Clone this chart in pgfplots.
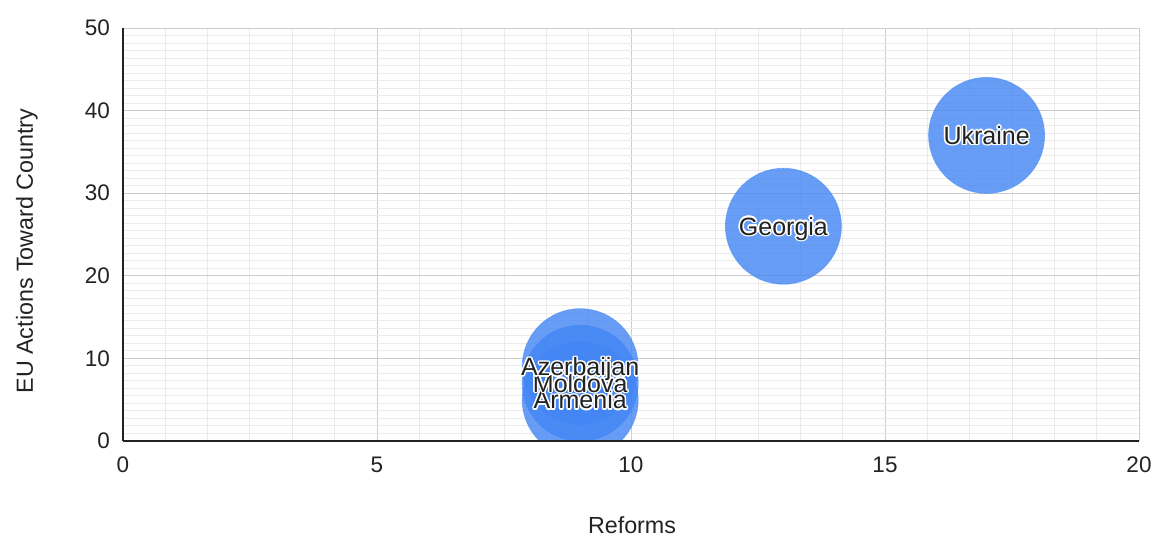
\documentclass[border=0pt]{standalone}
\usepackage{pgfplots}
\pgfplotsset{compat=1.18}
\usepackage{pgfplotstable}
\usepackage{fontspec}
\setmainfont{Liberation Sans}
\usepackage{contour}
\contourlength{1.5pt}
\contournumber{12}
\definecolor{bub}{RGB}{66,133,244}
\definecolor{txt}{RGB}{34,34,34}
\definecolor{majg}{RGB}{204,204,204}
\definecolor{ming}{RGB}{235,235,235}
\pgfplotstableread{
x y label
9 5 Armenia
9 7 Moldova
9 9 Azerbaijan
13 26 Georgia
17 37 Ukraine
}\bubbles
\pgfplotsset{common/.style={
 at={(0pt,0pt)}, anchor=south west, scale only axis, width=1016pt, height=413pt,
 xmin=0,xmax=20,ymin=0,ymax=50,
 axis lines=left, axis line style={-, txt, line width=1.2pt},
 major tick length=0pt, minor tick length=0pt}}
\begin{document}
\begin{tikzpicture}
\path[use as bounding box] (-123pt,-95pt) rectangle (1030pt,441pt);
\begin{axis}[common,
 axis line style={draw=none},
 xtick={0,5,...,20}, ytick={0,10,...,50},
 minor x tick num=5, minor y tick num=10,
 grid=both, major grid style={majg, line width=1pt}, minor grid style={ming, line width=1pt},
 /pgf/number format/assume math mode=true,
 tick label style={font=\fontsize{22.5}{27}\selectfont, text=txt},
 xticklabel style={inner sep=0pt, anchor=north, yshift=-16pt},
 yticklabel style={inner sep=0pt, anchor=east, xshift=-13pt},
 xlabel={Reforms}, ylabel={EU Actions Toward Country},
 label style={font=\fontsize{23.3}{28}\selectfont, text=txt, inner sep=0pt},
 xlabel style={at={(axis description cs:0.501,-0.2228)}, anchor=base},
 ylabel style={at={(axis description cs:-0.0886,0.46)}, anchor=base},
]
\end{axis}
\begin{axis}[common, hide axis]
\addplot[only marks, mark=*, mark size=58pt, color=bub, mark options={fill=bub, draw=bub, fill opacity=0.8, draw opacity=0.5, line width=0.8pt}] table[x=x,y=y] {\bubbles};
\addplot[draw=none, mark=none, point meta=explicit symbolic,
  nodes near coords={\contour{white}{\pgfplotspointmeta}},
  every node near coord/.style={font=\fontsize{25}{30}\selectfont, text=txt, inner sep=0pt, anchor=base, yshift=-9pt}]
  table[x=x,y=y,meta=label] {\bubbles};
\end{axis}
\fill[white] (415pt,-0.4pt) rectangle (498pt,-18pt);
\begin{axis}[common, xtick=\empty, ytick=\empty]
\end{axis}
\end{tikzpicture}
\end{document}
